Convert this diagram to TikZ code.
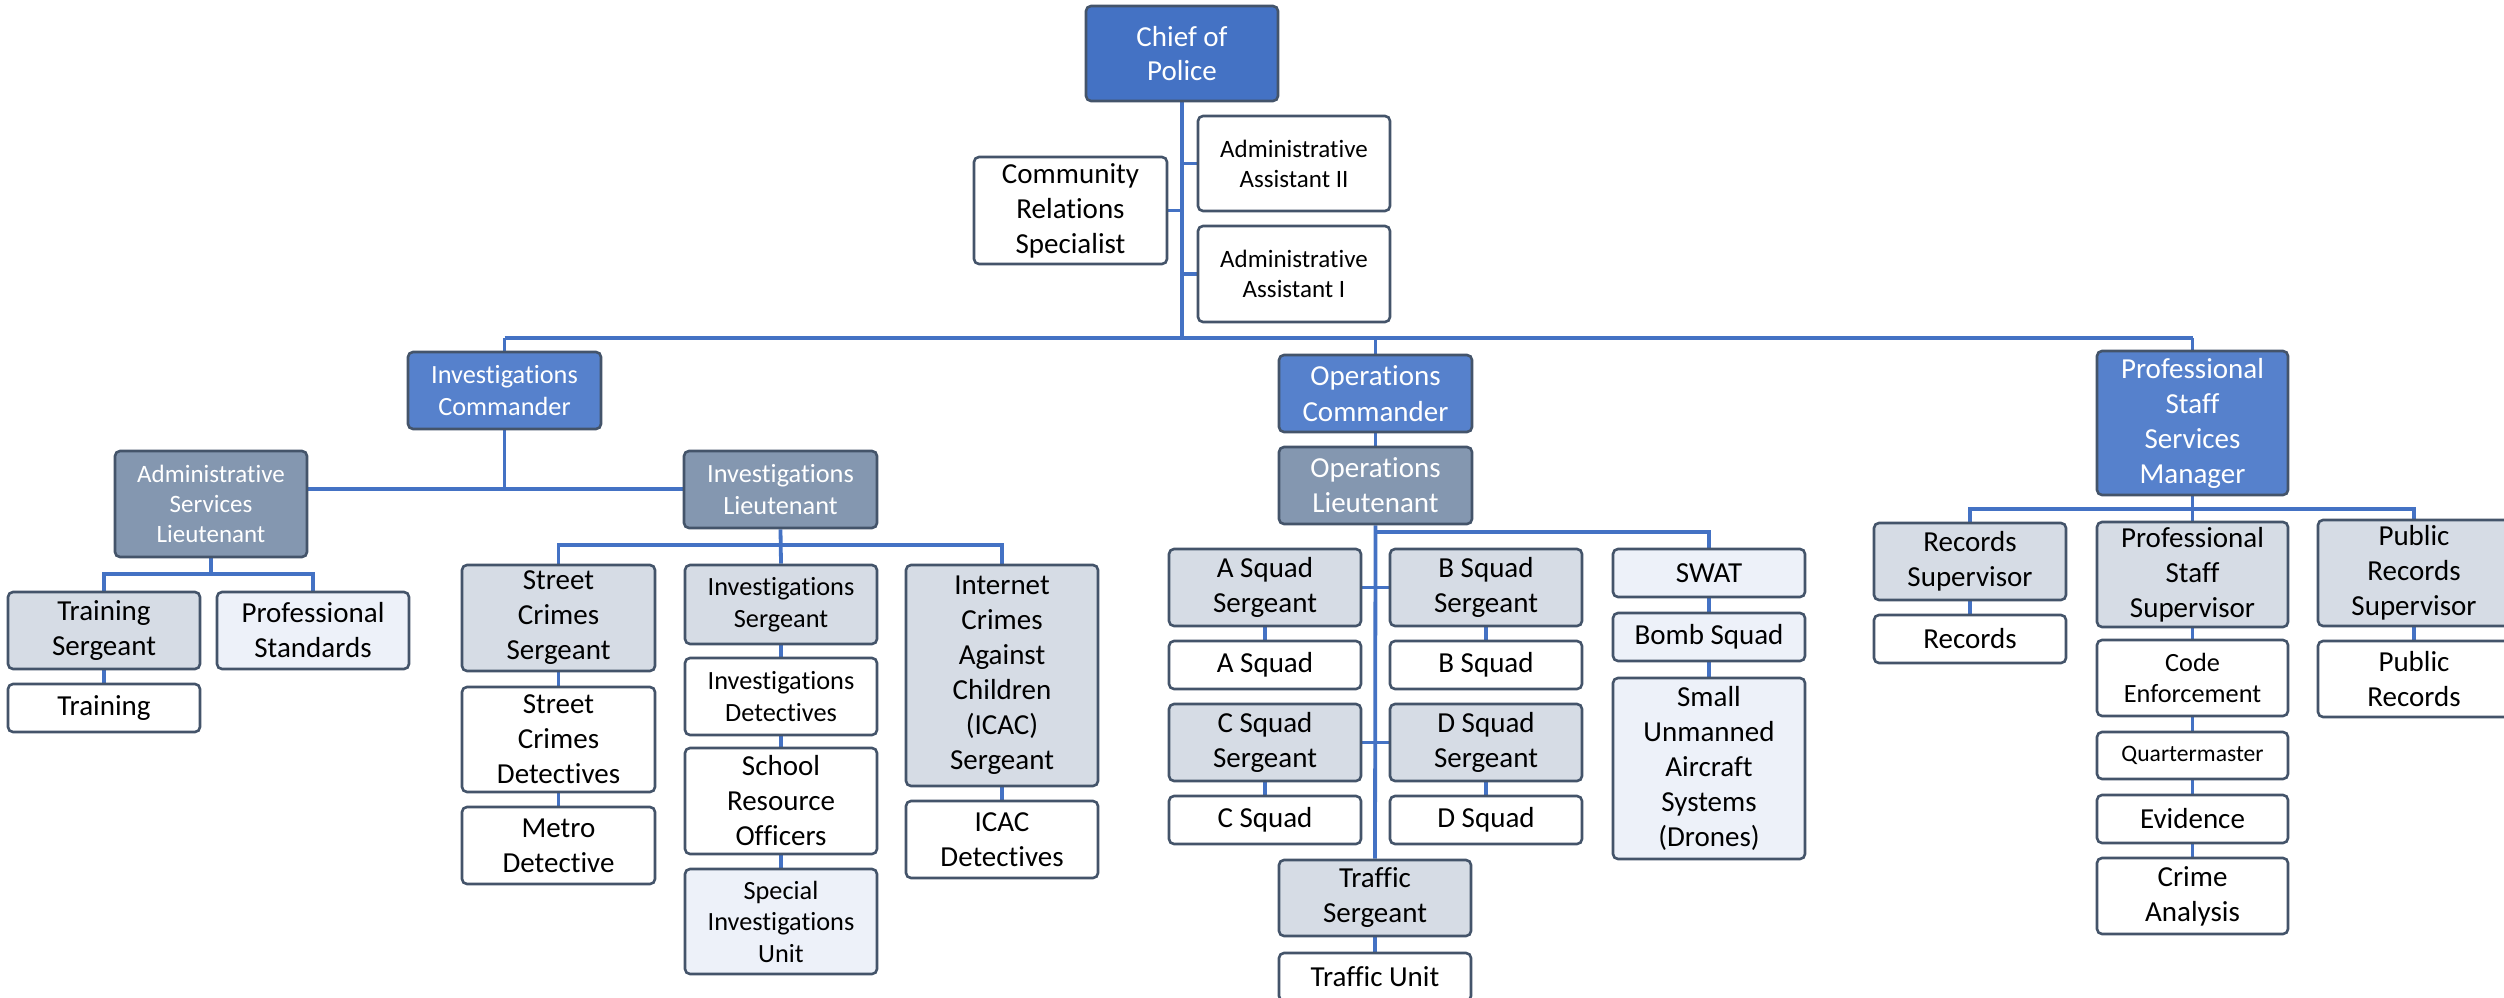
\documentclass[tikz,border=0pt]{standalone}
\usepackage{fontspec}
\setmainfont{Carlito}[Ligatures=NoCommon]
\usetikzlibrary{backgrounds}
\definecolor{chiefblue}{HTML}{4472C4}
\definecolor{cmdblue}{HTML}{5681CC}
\definecolor{ltgray}{HTML}{8497B0}
\definecolor{sgtgray}{HTML}{D6DCE5}
\definecolor{lightfill}{HTML}{EDF1F9}
\definecolor{boxline}{HTML}{44546A}
\definecolor{linkblue}{HTML}{4472C4}
\tikzset{
  box/.style={draw=boxline, line width=2.6pt, rounded corners=5pt, minimum width=192pt, inner sep=0pt, align=center, text=black, fill=white},
  chiefbox/.style={box, fill=chiefblue, text=white},
  cmdbox/.style={box, fill=cmdblue, text=white},
  ltbox/.style={box, fill=ltgray, text=white},
  sgtbox/.style={box, fill=sgtgray},
  lightbox/.style={box, fill=lightfill},
  plainbox/.style={box},
  fA/.style={font=\fontsize{29}{35}\selectfont},
  fB/.style={font=\fontsize{26.3}{31.5}\selectfont},
  fC/.style={font=\fontsize{25}{30}\selectfont},
  fD/.style={font=\fontsize{23.6}{28}\selectfont},
  link/.style={draw=linkblue, line width=3.8pt},
}
\begin{document}
\begin{tikzpicture}[x=1pt,y=-1pt]
\useasboundingbox (0,0) rectangle (2504,998);

% top level
\node[chiefbox,font=\fontsize{29}{34}\selectfont,minimum height=95pt] (chief) at (1182,53.5) {Chief of\\Police};
\node[plainbox,fA,minimum width=193pt,minimum height=107pt] (crs) at (1070.5,210.5) {Community\\Relations\\Specialist};
\node[plainbox,fC,minimum height=95pt] (aa2) at (1294,163.5) {Administrative\\Assistant II};
\node[plainbox,fC,minimum height=96pt] (aa1) at (1294,274) {Administrative\\Assistant I};

\coordinate (barL) at (504.5,338);
\coordinate (barR) at (2192.5,338);

% commanders
\node[cmdbox,fB,minimum width=193pt,minimum height=77pt] (invc) at (504.5,390.5) {Investigations\\Commander};
\node[cmdbox,font=\fontsize{29}{36}\selectfont,minimum width=193pt,minimum height=77pt] (opsc) at (1375.5,393.5) {Operations\\Commander};
\node[cmdbox,fA,minimum width=191pt,minimum height=144pt] (pssm) at (2192.5,423) {Professional\\Staff\\Services\\Manager};

% investigations
\coordinate (yInv) at (0,489);
\coordinate (yAsl) at (0,574);
\coordinate (yInvl) at (0,545);
\node[ltbox,fC,minimum height=106pt] (asl) at (211,504) {Administrative\\Services\\Lieutenant};
\node[ltbox,fB,minimum width=193pt,minimum height=77pt] (invl) at (780.5,489.5) {Investigations\\Lieutenant};

\node[sgtbox,fA,minimum height=77pt] (trs) at (104,630.5) {Training\\Sergeant};
\node[lightbox,fA,minimum height=77pt] (pstd) at (313,630.5) {Professional\\Standards};
\node[plainbox,fA,minimum height=48pt] (trn) at (104,708) {Training};

\node[sgtbox,fA,minimum width=193pt,minimum height=106pt] (scs) at (558.5,618) {Street\\Crimes\\Sergeant};
\node[plainbox,fA,minimum width=193pt,minimum height=105pt] (scd) at (558.5,739.5) {Street\\Crimes\\Detectives};
\node[plainbox,fA,minimum width=193pt,minimum height=77pt] (metro) at (558.5,845.5) {Metro\\Detective};

\node[sgtbox,fB,minimum height=79pt] (invs) at (781,604.5) {Investigations\\Sergeant};
\node[plainbox,fB,minimum height=77pt] (invd) at (781,696.5) {Investigations\\Detectives};
\node[plainbox,fA,minimum height=106pt] (sro) at (781,801) {School\\Resource\\Officers};
\node[lightbox,fB,minimum height=105pt] (siu) at (781,921.5) {Special\\Investigations\\Unit};

\node[sgtbox,fA,minimum height=221pt] (icacs) at (1002,675.5) {Internet\\Crimes\\Against\\Children\\(ICAC)\\Sergeant};
\node[plainbox,fA,minimum height=77pt] (icacd) at (1002,839.5) {ICAC\\Detectives};

% operations
\coordinate (yOps) at (0,532);
\node[ltbox,fA,minimum width=193pt,minimum height=77pt] (opsl) at (1375.5,485.5) {Operations\\Lieutenant};
\node[sgtbox,fA,minimum height=77pt] (asgt) at (1265,587.5) {A Squad\\Sergeant};
\node[plainbox,fA,minimum height=48pt] (asq) at (1265,665) {A Squad};
\node[sgtbox,fA,minimum height=77pt] (csgt) at (1265,742.5) {C Squad\\Sergeant};
\node[plainbox,fA,minimum height=48pt] (csq) at (1265,820) {C Squad};
\node[sgtbox,fA,minimum height=77pt] (bsgt) at (1486,587.5) {B Squad\\Sergeant};
\node[plainbox,fA,minimum height=48pt] (bsq) at (1486,665) {B Squad};
\node[sgtbox,fA,minimum height=77pt] (dsgt) at (1486,742.5) {D Squad\\Sergeant};
\node[plainbox,fA,minimum height=48pt] (dsq) at (1486,820) {D Squad};
\node[lightbox,fA,minimum height=48pt] (swat) at (1709,573) {SWAT};
\node[lightbox,fA,minimum height=48pt] (bomb) at (1709,637) {Bomb Squad};
\node[lightbox,fA,minimum height=181pt] (drones) at (1709,768.5) {Small\\Unmanned\\Aircraft\\Systems\\(Drones)};
\node[sgtbox,fA,minimum height=76pt] (trafs) at (1375,898) {Traffic\\Sergeant};
\node[plainbox,fA,minimum height=48pt] (trafu) at (1375,977) {Traffic Unit};

% professional staff
\coordinate (yPss) at (0,509);
\node[sgtbox,fA,minimum height=77pt] (rsup) at (1970,561.5) {Records\\Supervisor};
\node[plainbox,fA,minimum height=48pt] (rec) at (1970,639) {Records};
\node[sgtbox,fA,minimum width=191pt,minimum height=105pt] (pss) at (2192.5,574.5) {Professional\\Staff\\Supervisor};
\node[plainbox,fB,minimum width=191pt,minimum height=76pt] (code) at (2192.5,678) {Code\\Enforcement};
\node[plainbox,fD,minimum width=191pt,minimum height=47pt] (qm) at (2192.5,755.5) {Quartermaster};
\node[plainbox,fA,minimum width=191pt,minimum height=48pt] (evid) at (2192.5,819) {Evidence};
\node[plainbox,fA,minimum width=191pt,minimum height=76pt] (crime) at (2192.5,896) {Crime\\Analysis};
\node[sgtbox,fA,minimum height=106pt] (prsup) at (2414,573) {Public\\Records\\Supervisor};
\node[plainbox,fA,minimum height=76pt] (prec) at (2414,679) {Public\\Records};

\begin{scope}[on background layer]
\fill[white] (0,0) rectangle (2504,998);
\draw[link] (chief.south) -- (chief.south |- barL);
\draw[link] (barL) -- (barR);
\draw[link] (aa2.west) -- (aa2.west -| chief.south);
\draw[link] (aa1.west) -- (aa1.west -| chief.south);
\draw[link] (crs.east) -- (crs.east -| chief.south);
\draw[link] (invc.north) -- (invc.north |- barL);
\draw[link] (opsc.north) -- (opsc.north |- barL);
\draw[link] (pssm.north) -- (pssm.north |- barR);
% investigations
\draw[link] (invc.south) -- (invc.south |- yInv);
\draw[link] (asl.east |- yInv) -- (invl.west |- yInv);
\draw[link] (asl.south) -- (asl.south |- yAsl);
\draw[link] (trs.north) -- (trs.north |- yAsl) -- (pstd.north |- yAsl) -- (pstd.north);
\draw[link] (trs.south) -- (trn.north);
\draw[link] (invl.south) -- (invs.north);
\draw[link] (scs.north) -- (scs.north |- yInvl) -- (icacs.north |- yInvl) -- (icacs.north);
\draw[link] (scs.south) -- (scd.north);
\draw[link] (scd.south) -- (metro.north);
\draw[link] (invs.south) -- (invd.north);
\draw[link] (invd.south) -- (sro.north);
\draw[link] (sro.south) -- (siu.north);
\draw[link] (icacs.south) -- (icacd.north);
% operations
\draw[link] (opsc.south) -- (opsl.north);
\draw[link] (opsl.south) -- (trafs.north);
\draw[link] (opsl.south |- yOps) -- (swat.north |- yOps) -- (swat.north);
\draw[link] (asgt.east) -- (bsgt.west);
\draw[link] (csgt.east) -- (dsgt.west);
\draw[link] (asgt.south) -- (asq.north);
\draw[link] (bsgt.south) -- (bsq.north);
\draw[link] (csgt.south) -- (csq.north);
\draw[link] (dsgt.south) -- (dsq.north);
\draw[link] (swat.south) -- (bomb.north);
\draw[link] (bomb.south) -- (drones.north);
\draw[link] (trafs.south) -- (trafu.north);
% professional staff
\draw[link] (pssm.south) -- (pss.north);
\draw[link] (rsup.north) -- (rsup.north |- yPss) -- (prsup.north |- yPss) -- (prsup.north);
\draw[link] (rsup.south) -- (rec.north);
\draw[link] (pss.south) -- (code.north);
\draw[link] (code.south) -- (qm.north);
\draw[link] (qm.south) -- (evid.north);
\draw[link] (evid.south) -- (crime.north);
\draw[link] (prsup.south) -- (prec.north);
\end{scope}
\end{tikzpicture}
\end{document}
